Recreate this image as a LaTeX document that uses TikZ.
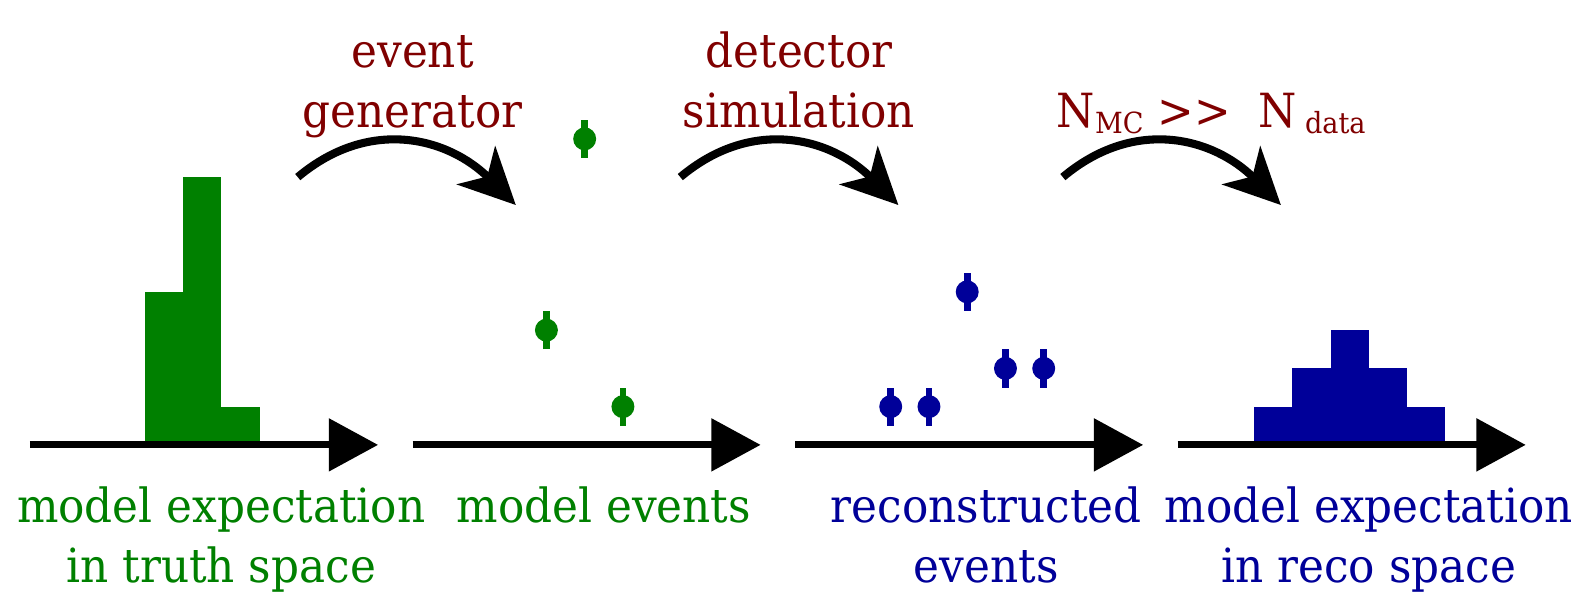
\documentclass[tikz,border=0pt]{standalone}
\usepackage{fontspec}
\setmainfont{DejaVu Serif}[FakeStretch=0.93]
\usetikzlibrary{arrows.meta}

\definecolor{truthgreen}{RGB}{0,128,0}
\definecolor{recoblue}{RGB}{0,0,153}
\definecolor{stepred}{RGB}{128,0,0}

\newcommand{\lowsub}[1]{\raisebox{-0.25ex}{\fontsize{13}{13}\selectfont #1}}

\tikzset{
  axis/.style={line width=3.1pt,-{Triangle[length=22pt,width=23pt]}},
  flow/.style={line width=3.6pt,-{Stealth[length=25pt,width=24pt,inset=7pt]}},
  errbar/.style={line width=3pt},
  lbl/.style={align=center,anchor=base,inner sep=0pt,
    font=\fontsize{21}{26.8}\selectfont},
  truthlabel/.style={lbl,text=truthgreen},
  recolabel/.style={lbl,text=recoblue},
  steplabel/.style={lbl,text=stepred}
}

\begin{document}
\begin{tikzpicture}[x=0.6cm,y=0.6cm]
  \useasboundingbox (-0.784,-3.84) rectangle (40.31,11.63);

  % truth histogram
  \foreach \x/\h in {3/4,4/7,5/1}
    \fill[truthgreen] (\x,0) rectangle (\x+1,\h);
  % reco histogram
  \foreach \x/\h in {32/1,33/2,34/3,35/2,36/1}
    \fill[recoblue] (\x,0) rectangle (\x+1,\h);

  % model events
  \foreach \x/\y in {14.5/8,13.5/3,15.5/1} {
    \draw[errbar,truthgreen] (\x,\y-0.5) -- (\x,\y+0.5);
    \fill[truthgreen] (\x,\y) circle (0.3);
  }
  % reconstructed events
  \foreach \x/\y in {22.5/1,23.5/1,24.5/4,25.5/2,26.5/2} {
    \draw[errbar,recoblue] (\x,\y-0.5) -- (\x,\y+0.5);
    \fill[recoblue] (\x,\y) circle (0.3);
  }

  % axes
  \foreach \i in {0,...,3} {
    \coordinate (ax\i) at (10*\i,0);
    \coordinate (tip\i) at (10*\i+9.1,0);
    \draw[axis] (ax\i) -- (tip\i);
  }

  % step arrows
  \foreach \i in {0,1,2} {
    \coordinate (from\i) at (10*\i+7,7);
    \coordinate (to\i) at (10*\i+12.7,6.27);
    \draw[flow] (from\i) to[out=40,in=135,looseness=1.1] (to\i);
  }

  % labels (base = last line)
  \node[truthlabel] (truthexp) at (5,-3.61) {model expectation\\in truth space};
  \node[truthlabel] (truthevt) at (15,-2.04) {model events};
  \node[recolabel] (recoevt) at (25,-3.61) {reconstructed\\events};
  \node[recolabel] (recoexp) at (35,-3.61) {model expectation\\in reco space};

  \node[steplabel] (gen) at (10,8.29) {event\\generator};
  \node[steplabel] (sim) at (20.1,8.29) {detector\\simulation};
  \node[steplabel] (stat) at (30.88,8.29) {N\lowsub{MC} >{}> \hspace{0.3em}N\,\lowsub{data}};
\end{tikzpicture}
\end{document}
